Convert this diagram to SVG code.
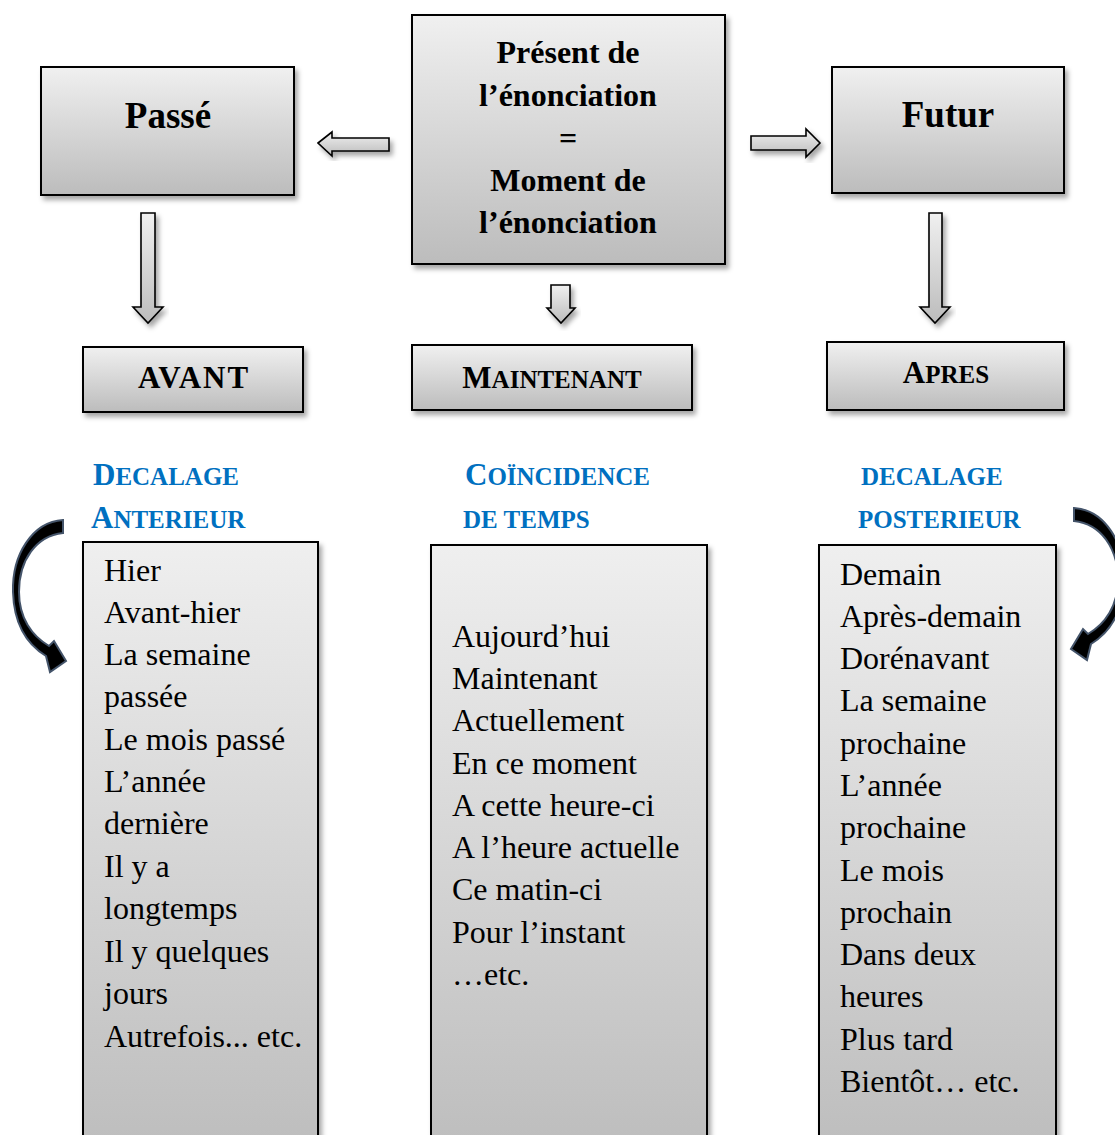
<svg xmlns="http://www.w3.org/2000/svg" width="1115" height="1135" viewBox="0 0 1115 1135">
<defs>
<linearGradient id="g" x1="0" y1="0" x2="0" y2="1">
<stop offset="0" stop-color="#f0f0f0"/>
<stop offset="1" stop-color="#bcbcbc"/>
</linearGradient>
<linearGradient id="gt" x1="0" y1="0" x2="0" y2="1">
<stop offset="0" stop-color="#efefef"/>
<stop offset="1" stop-color="#bdbdbd"/>
</linearGradient>
<filter id="sh" x="-10%" y="-10%" width="130%" height="130%">
<feDropShadow dx="3" dy="4" stdDeviation="2.5" flood-color="#000" flood-opacity="0.35"/>
</filter>
<path id="curve" d="M 63,520 C 32,522 12,555 13,592 C 14,625 28,645 46,656 L 50,672 L 66,661 L 54,641 L 49,646 C 32,636 19,618 19,592 C 19,560 36,536 63,533 Z"/>
</defs>
<style>
.box{fill:url(#g);stroke:#000;stroke-width:2;filter:url(#sh)}
.tall{fill:url(#gt);stroke:#000;stroke-width:2;filter:url(#sh)}
.arr{fill:url(#g);stroke:#000;stroke-width:1.6;stroke-linejoin:miter;filter:url(#sh)}
.curve{fill:#000;stroke:#44546a;stroke-width:2}
.big{font-family:"Liberation Serif","Times New Roman",serif;font-weight:bold;font-size:37px;fill:#000;text-anchor:middle}
.mid{font-family:"Liberation Serif","Times New Roman",serif;font-weight:bold;font-size:32px;fill:#000;text-anchor:middle}
.cap{font-family:"Liberation Serif","Times New Roman",serif;font-weight:bold;font-size:31px;fill:#000;text-anchor:middle}
.head{font-family:"Liberation Serif","Times New Roman",serif;font-weight:bold;font-size:31px;fill:#0070c0}
.sm{font-size:25px}
.list{font-family:"Liberation Serif","Times New Roman",serif;font-size:32px;fill:#000}
</style>

<g id="connectors">
<polygon class="arr" points="318,143 332,132 332,138 389,138 389,151 332,151 332,156"/>
<polygon class="arr" points="751,136 806,136 806,129 820,143 806,157 806,150 751,150"/>
<polygon class="arr" points="141,213 155,213 155,307 163,307 148,323 133,307 141,307"/>
<polygon class="arr" points="551,285 570,285 570,308 575,308 561,323 547,308 551,308"/>
<polygon class="arr" points="929,213 942,213 942,307 950,307 935,323 920,307 929,307"/>
<use href="#curve" class="curve"/>
<use href="#curve" class="curve" transform="matrix(-1 0 0 1 1137 -12)"/>
</g>

<g id="passe">
<rect class="box" x="41" y="67" width="253" height="128"/>
<text class="big" x="168" y="128">Passé</text>
</g>

<g id="present">
<rect class="box" x="412" y="15" width="313" height="249"/>
<text class="mid" x="568" y="63">Présent de</text>
<text class="mid" x="568" y="106">l’énonciation</text>
<text class="mid" x="568" y="149">=</text>
<text class="mid" x="568" y="191">Moment de</text>
<text class="mid" x="568" y="233">l’énonciation</text>
</g>

<g id="futur">
<rect class="box" x="832" y="67" width="232" height="126"/>
<text class="big" x="948" y="127">Futur</text>
</g>

<g id="avant">
<rect class="box" x="83" y="347" width="220" height="65"/>
<text class="cap" x="194" y="388" letter-spacing="2">AVANT</text>
</g>

<g id="maintenant">
<rect class="box" x="412" y="345" width="280" height="65"/>
<text class="cap" x="552" y="388">M<tspan class="sm">AINTENANT</tspan></text>
</g>

<g id="apres">
<rect class="box" x="827" y="342" width="237" height="68"/>
<text class="cap" x="946" y="383">A<tspan class="sm">PRES</tspan></text>
</g>

<g id="heading-anterieur">
<text class="head" x="93" y="485">D<tspan class="sm">ECALAGE</tspan></text>
<text class="head" x="91" y="528">A<tspan class="sm">NTERIEUR</tspan></text>
</g>

<g id="heading-coincidence">
<text class="head" x="465" y="485">C<tspan class="sm">OÏNCIDENCE</tspan></text>
<text class="head" x="463" y="528"><tspan class="sm">DE TEMPS</tspan></text>
</g>

<g id="heading-posterieur">
<text class="head" x="861" y="485"><tspan class="sm">DECALAGE</tspan></text>
<text class="head" x="858" y="528"><tspan class="sm">POSTERIEUR</tspan></text>
</g>

<g id="list-avant">
<rect class="tall" x="83" y="542" width="235" height="610"/>
<text class="list" x="104" y="581">Hier</text>
<text class="list" x="104" y="623">Avant-hier</text>
<text class="list" x="104" y="665">La semaine</text>
<text class="list" x="104" y="707">passée</text>
<text class="list" x="104" y="750">Le mois passé</text>
<text class="list" x="104" y="792">L’année</text>
<text class="list" x="104" y="834">dernière</text>
<text class="list" x="104" y="877">Il y a</text>
<text class="list" x="104" y="919">longtemps</text>
<text class="list" x="104" y="962">Il y quelques</text>
<text class="list" x="104" y="1004">jours</text>
<text class="list" x="104" y="1047">Autrefois... etc.</text>
</g>

<g id="list-maintenant">
<rect class="tall" x="431" y="545" width="276" height="607"/>
<text class="list" x="452" y="647">Aujourd’hui</text>
<text class="list" x="452" y="689">Maintenant</text>
<text class="list" x="452" y="731">Actuellement</text>
<text class="list" x="452" y="774">En ce moment</text>
<text class="list" x="452" y="816">A cette heure-ci</text>
<text class="list" x="452" y="858">A l’heure actuelle</text>
<text class="list" x="452" y="900">Ce matin-ci</text>
<text class="list" x="452" y="943">Pour l’instant</text>
<text class="list" x="452" y="985">…etc.</text>
</g>

<g id="list-apres">
<rect class="tall" x="819" y="545" width="237" height="607"/>
<text class="list" x="840" y="585">Demain</text>
<text class="list" x="840" y="627">Après-demain</text>
<text class="list" x="840" y="669">Dorénavant</text>
<text class="list" x="840" y="711">La semaine</text>
<text class="list" x="840" y="754">prochaine</text>
<text class="list" x="840" y="796">L’année</text>
<text class="list" x="840" y="838">prochaine</text>
<text class="list" x="840" y="881">Le mois</text>
<text class="list" x="840" y="923">prochain</text>
<text class="list" x="840" y="965">Dans deux</text>
<text class="list" x="840" y="1007">heures</text>
<text class="list" x="840" y="1050">Plus tard</text>
<text class="list" x="840" y="1092">Bientôt… etc.</text>
</g>
</svg>
